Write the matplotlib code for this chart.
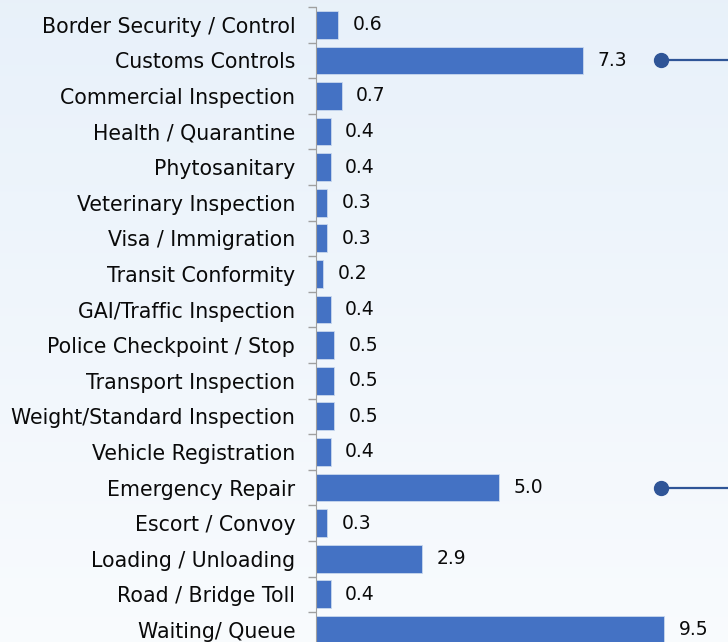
import numpy as np
import matplotlib.pyplot as plt

categories = ["Border Security / Control", "Customs Controls", "Commercial Inspection",
              "Health / Quarantine", "Phytosanitary", "Veterinary Inspection",
              "Visa / Immigration", "Transit Conformity", "GAI/Traffic Inspection",
              "Police Checkpoint / Stop", "Transport Inspection", "Weight/Standard Inspection",
              "Vehicle Registration", "Emergency Repair", "Escort / Convoy",
              "Loading / Unloading", "Road / Bridge Toll", "Waiting/ Queue"]
values = [0.6, 7.3, 0.7, 0.4, 0.4, 0.3, 0.3, 0.2, 0.4, 0.5, 0.5, 0.5, 0.4, 5.0, 0.3, 2.9, 0.4, 9.5]
callouts = ["Customs Controls", "Emergency Repair"]

plt.rcParams['font.family'] = ['DejaVu Sans']

fig = plt.figure(figsize=(7.28, 6.42), dpi=100)

# fond en dégradé
bg = fig.add_axes([0, 0, 1, 1], zorder=-1)
grad = np.linspace(0, 1, 256).reshape(-1, 1)
c_top = np.array([0.91, 0.945, 0.98])
c_bot = np.array([0.975, 0.985, 0.995])
img = c_top + (c_bot - c_top) * grad[..., None]
bg.imshow(img, aspect='auto', extent=[0, 1, 0, 1], origin='upper')
bg.axis('off')

ax = fig.add_axes([316/728, 0, 1 - 316/728, 1 - 7/642])
ax.patch.set_alpha(0)

y = np.arange(len(categories))
ax.barh(y, values, height=0.78, color='#4472C4', edgecolor='#C9D8EE', linewidth=0.6)
for yi, v in zip(y, values):
    ax.annotate(f"{v:.1f}", (v, yi), xytext=(10.5, 0), textcoords='offset points',
                va='center', ha='left', fontsize=13.5, color='#0a0a0a')

for c in callouts:
    yi = categories.index(c)
    ax.plot([9.43, 11.5], [yi, yi], color='#2F5597', lw=1.6, clip_on=False)
    ax.plot(9.43, yi, 'o', color='#2F5597', ms=10)

ax.set_xlim(0, 11.25)
ax.set_ylim(17.34, -0.5)
ax.set_yticks(y)
ax.set_yticklabels(categories, fontsize=14.8, color='#0a0a0a')
ax.tick_params(axis='y', which='major', length=0, pad=15)
ax.set_yticks(np.arange(-0.5, 17.5, 1), minor=True)
ax.tick_params(axis='y', which='minor', length=6, color='#A0A0A0', width=1)
ax.set_xticks([])
for s in ['top', 'right', 'bottom']:
    ax.spines[s].set_visible(False)
ax.spines['left'].set_color('#A0A0A0')

plt.savefig("out.png", dpi=100)
